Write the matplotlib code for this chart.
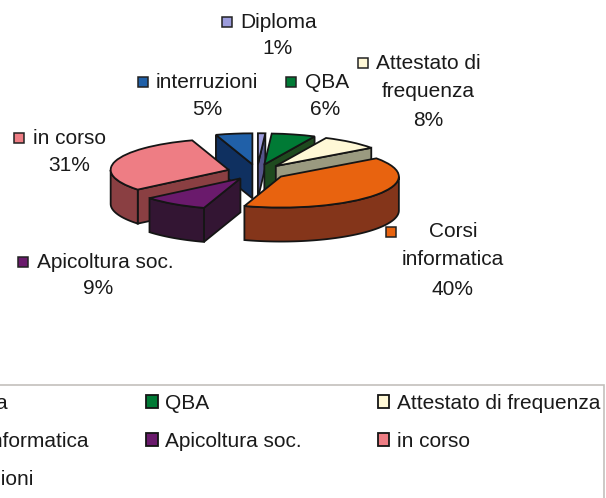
import numpy as np
import matplotlib
matplotlib.use("Agg")
import matplotlib.pyplot as plt
from matplotlib.patches import Polygon, Rectangle

plt.rcParams['font.family'] = ['Liberation Sans', 'DejaVu Sans']

# slices, clockwise from 12 o'clock
categories = ['Diploma', 'QBA', 'Attestato di frequenza', 'Corsi informatica',
              'Apicoltura soc.', 'in corso', 'interruzioni']
percent = [1, 6, 8, 40, 9, 31, 5]
top_colors = ['#9c9cdc', '#007a35', '#fff8d6', '#e8630f', '#6a1a6c', '#ee7d84', '#2060a8']
side_colors = ['#54548a', '#1f4a1f', '#9a9a80', '#84351a', '#331533', '#8a3f42', '#0f3060']
legend_left = [0, 3, 6]
legend_right = [1, 4, 2, 5]

W, H = 606, 498
cx, cy = 257, 172  # pie centre in px
rx, ry, depth = 118, 31, 34

fig = plt.figure(figsize=(W / 100, H / 100), dpi=100)
ax = fig.add_axes([0, 0, 1, 1])
wedges, _ = ax.pie(percent, colors=top_colors, startangle=90, counterclock=False,
                   explode=[0.25] * len(percent),
                   wedgeprops=dict(edgecolor='#151515', linewidth=1.3))
ax.set_aspect('auto')
ax.set_xlim(-cx / rx, (W - cx) / rx)
ax.set_ylim(-(H - cy) / ry, cy / ry)
ax.axis('off')
h = depth / ry


def side(points, color, z):
    # extrude a path on the top face downwards
    pts = np.array(points)
    low = pts - [0, h]
    ax.add_patch(Polygon(np.vstack([pts, low[::-1]]), closed=True, facecolor=color,
                         edgecolor='#151515', linewidth=1.3, zorder=z))


# back slices get drawn first
mids = [np.sin(np.radians((w.theta1 + w.theta2) / 2)) for w in wedges]
for rank, i in enumerate(np.argsort(mids)[::-1]):
    w = wedges[i]
    x0, y0 = w.center
    z = 10 * rank + 2
    for th, normal in [(w.theta1, w.theta1 - 90), (w.theta2, w.theta2 + 90)]:
        if np.sin(np.radians(normal)) < 0:
            a = np.radians(th)
            side([(x0, y0), (x0 + np.cos(a), y0 + np.sin(a))], side_colors[i], z)
    t = np.radians(np.linspace(w.theta1, w.theta2, 200))
    t = t[np.sin(t) < 0]
    if len(t) > 1:
        side(np.column_stack([x0 + np.cos(t), y0 + np.sin(t)]), side_colors[i], z + 1)
    w.set_zorder(z + 2)

# overlay in pixel coordinates for the labels
pax = fig.add_axes([0, 0, 1, 1], facecolor='none', zorder=500)
pax.set_xlim(0, W)
pax.set_ylim(H, 0)
pax.axis('off')

FS = 15
label_spots = [
    (0, 227, 22, 240, 22, 'Diploma', 'left'),
    (6, 143, 82, 156, 82, 'interruzioni', 'left'),
    (1, 291, 82, 305, 82, 'QBA', 'left'),
    (2, 363, 63, 376, 63, 'Attestato di', 'left'),
    (5, 19, 138, 33, 138, 'in corso', 'left'),
    (3, 391, 232, 453, 231, 'Corsi', 'center'),
    (4, 23, 262, 37, 262, 'Apicoltura soc.', 'left'),
]
for i, mx, my, tx, ty, txt, ha in label_spots:
    pax.add_patch(Rectangle((mx - 5, my - 5), 10, 10, facecolor=top_colors[i],
                            edgecolor='#222222', linewidth=1.1))
    pax.text(tx, ty, txt, fontsize=FS, ha=ha, va='center', color='#1a1a1a')

extra_lines = [(428, 91, 'frequenza'), (453, 259, 'informatica')]
for tx, ty, txt in extra_lines:
    pax.text(tx, ty, txt, fontsize=FS, ha='center', va='center', color='#1a1a1a')

pct_spots = [(277, 48, 0), (325, 109, 1), (428, 120, 2), (453, 289, 3),
             (98, 288, 4), (69, 165, 5), (207, 109, 6)]
for tx, ty, i in pct_spots:
    pax.text(tx, ty, f'{percent[i]}%', fontsize=FS, ha='center', va='center', color='#1a1a1a')

# legend box runs off the left and bottom of the picture
pax.add_patch(Rectangle((-10, 385), 614, 130, facecolor='white', edgecolor='#c4c0bc',
                        linewidth=1.2))

leg_kw = dict(borderaxespad=0, borderpad=0, fontsize=FS, frameon=False, loc='upper right',
              handlelength=0.55, handleheight=0.55, handletextpad=0.35,
              labelspacing=0.9, bbox_transform=pax.transData)
left = pax.legend([wedges[i] for i in legend_left], [categories[i] for i in legend_left],
                  bbox_to_anchor=(88, 394), **leg_kw)
pax.add_artist(left)
right = pax.legend([wedges[i] for i in legend_right], [categories[i] for i in legend_right],
                   ncol=2, columnspacing=3.65, bbox_to_anchor=(600, 394), **leg_kw)
for leg in (left, right):
    leg.set_zorder(600)
    for t in leg.get_texts():
        t.set_color('#1a1a1a')

fig.savefig('out.png', dpi=100)
